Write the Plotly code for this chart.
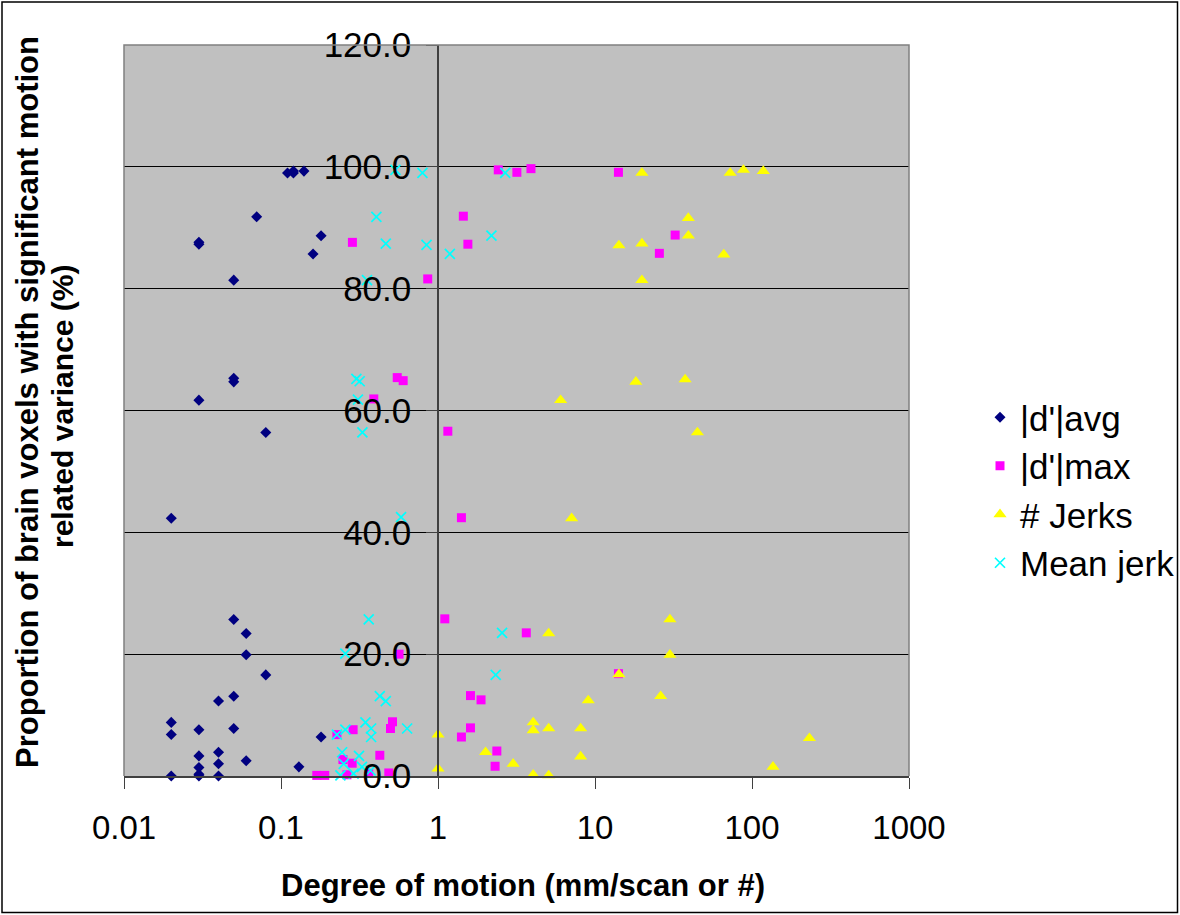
import plotly.graph_objects as go

# ---------------- data ----------------
avg_x = [0.11, 0.12, 0.12, 0.14, 0.07, 0.03, 0.03, 0.18, 0.16, 0.05,
         0.05, 0.05, 0.03, 0.08, 0.02, 0.05, 0.06, 0.06, 0.08, 0.04,
         0.05, 0.02, 0.02, 0.03, 0.05, 0.18, 0.04, 0.03, 0.04, 0.06,
         0.03, 0.13, 0.02, 0.03, 0.04, 0.03]
avg_y = [99.0, 99.0, 99.3, 99.3, 91.8, 87.3, 87.6, 88.7, 85.7, 81.4,
         65.3, 64.7, 61.7, 56.4, 42.3, 25.7, 23.4, 19.9, 16.6, 12.3,
         13.1, 8.8, 6.8, 7.6, 7.8, 6.4, 3.9, 3.3, 2.0, 2.5,
         1.4, 1.5, 0.0, 0.3, 0.0, 0.0]

max_x = [0.285, 0.86, 2.42, 3.18, 3.91, 1.45, 1.55, 14.1, 32.4, 25.7,
         0.55, 0.60, 0.39, 1.155, 1.41, 1.105, 3.65, 0.565, 14.1, 1.61,
         1.88, 1.61, 1.41, 2.37, 2.31, 0.227, 0.288, 0.513, 0.498, 0.426,
         0.248, 0.284, 0.169, 0.19, 0.263, 0.362, 0.486]
max_y = [87.6, 81.6, 99.5, 99.1, 99.7, 91.9, 87.3, 99.1, 88.8, 85.8,
         65.4, 64.9, 61.9, 56.6, 42.4, 25.8, 23.5, 20.0, 16.8, 13.2,
         12.5, 7.9, 6.4, 4.1, 1.6, 6.8, 7.6, 8.9, 7.8, 3.4,
         2.7, 2.1, 0.1, 0.1, 0.2, 0.4, 0.5]

jerks_x = [19.9, 72.6, 88.2, 118, 39.3, 39.3, 14.2, 19.9, 19.9, 66.1,
           6.04, 18.2, 37.5, 44.9, 7.1, 5.07, 30.0, 30.0, 14.2, 9.06,
           26.2, 4.04, 4.04, 5.07, 8.1, 2.01, 8.1, 3.01, 4.04, 5.07,
           1.0, 1.0, 232, 136]
jerks_y = [99.0, 99.0, 99.5, 99.3, 91.6, 88.7, 87.1, 87.4, 81.4, 85.6,
           61.7, 64.7, 65.1, 56.4, 42.3, 23.4, 25.7, 19.9, 16.7, 12.4,
           13.1, 8.8, 7.5, 7.8, 7.8, 3.9, 3.2, 2.0, 0.2, 0.1,
           6.8, 1.2, 6.2, 1.5]

mj_x = [0.536, 0.796, 2.68, 0.405, 0.465, 0.845, 1.19, 2.19, 0.353, 0.302,
        0.317, 0.309, 0.33, 0.582, 0.362, 2.56, 0.257, 2.33, 0.426, 0.465,
        0.227, 0.257, 0.345, 0.375, 0.375, 0.636, 0.245, 0.314, 0.251, 0.328,
        0.29, 0.239, 0.372]
mj_y = [99.5, 99.0, 99.0, 91.8, 87.4, 87.2, 85.7, 88.7, 81.4, 65.2,
        64.8, 61.8, 56.4, 42.5, 25.7, 23.5, 20.1, 16.6, 13.1, 12.3,
        6.8, 7.6, 8.8, 7.8, 6.4, 7.8, 3.9, 3.3, 2.0, 1.5,
        0.4, 0.1, 0.9]

x_tickvals = [0.01, 0.1, 1, 10, 100, 1000]
x_ticktext = ["0.01", "0.1", "1", "10", "100", "1000"]
y_tickvals = [0, 20, 40, 60, 80, 100, 120]

# ---------------- layout geometry ----------------
W, H = 1180, 915
ML, MR, MT, MB = 124, 271, 45, 139
PW = W - ML - MR
PH = H - MT - MB


def px_x(p):
    return (p - ML) / PW


def px_y(p):
    return (H - MB - p) / PH


FONT = "Liberation Sans, Arial, sans-serif"

fig = go.Figure()
fig.add_trace(go.Scatter(x=avg_x, y=avg_y, mode="markers", name="|d'|avg",
                         marker=dict(symbol="diamond", size=8.5, color="#000080"),
                         cliponaxis=False))
fig.add_trace(go.Scatter(x=max_x, y=max_y, mode="markers", name="|d'|max",
                         marker=dict(symbol="square", size=9, color="#FF00FF"),
                         cliponaxis=False))
fig.add_trace(go.Scatter(x=jerks_x, y=jerks_y, mode="markers", name="# Jerks",
                         marker=dict(symbol="triangle-up", size=11.5, color="#FFFF00"),
                         cliponaxis=False))
fig.add_trace(go.Scatter(x=mj_x, y=mj_y, mode="markers", name="Mean jerk",
                         marker=dict(symbol="x-thin", size=10, color="#00FFFF",
                                     line=dict(color="#00FFFF", width=1.7)),
                         cliponaxis=False))

fig.update_layout(
    width=W, height=H, autosize=False,
    margin=dict(l=ML, r=MR, t=MT, b=MB, pad=0),
    paper_bgcolor="white",
    plot_bgcolor="#C0C0C0",
    font=dict(family=FONT, color="black", size=33),
    xaxis=dict(type="log", range=[-2, 3], tickvals=x_tickvals, ticktext=x_ticktext,
               ticks="outside", ticklen=11, tickcolor="#404040", tickwidth=1,
               showline=True, linecolor="#404040", linewidth=2,
               showgrid=False, zeroline=False, ticklabelstandoff=10,
               automargin=False,
               tickfont=dict(size=33, family=FONT)),
    yaxis=dict(range=[0, 120], tickvals=y_tickvals, tickformat=".1f",
               anchor="free", position=0.4,
               ticks="outside", ticklen=11, tickcolor="#404040", tickwidth=1,
               showline=True, linecolor="#404040", linewidth=1.5,
               showgrid=True, gridcolor="black", gridwidth=1,
               zeroline=False, ticklabelstandoff=8, automargin=False,
               tickfont=dict(size=35, family=FONT)),
    legend=dict(xref="container", yref="container",
                x=980 / W, xanchor="left", y=1 - 388 / H, yanchor="top",
                bgcolor="rgba(0,0,0,0)", borderwidth=0,
                font=dict(size=35, family=FONT), itemwidth=30),
    showlegend=True,
)

# plot-area frame (top, left, right) in gray
fig.add_shape(type="path", xref="paper", yref="paper",
              path="M 0,0 L 0,1 L 1,1 L 1,0",
              line=dict(color="#808080", width=1.5), layer="above")

# outer chart border
fig.add_shape(type="rect", xref="paper", yref="paper",
              x0=px_x(2), x1=px_x(1177.5), y0=px_y(912.5), y1=px_y(2),
              line=dict(color="black", width=1.5), fillcolor="rgba(0,0,0,0)",
              layer="above")

# axis titles
fig.add_annotation(text="<b>Degree of motion (mm/scan or #)</b>",
                   xref="paper", yref="paper", x=px_x(523), y=px_y(885),
                   xanchor="center", yanchor="middle", showarrow=False,
                   font=dict(size=31, family=FONT, color="black"))
fig.add_annotation(text="<b>Proportion of brain voxels with significant motion</b>",
                   xref="paper", yref="paper", x=px_x(27), y=px_y(402),
                   xanchor="center", yanchor="middle", showarrow=False, textangle=-90,
                   font=dict(size=31, family=FONT, color="black"))
fig.add_annotation(text="<b>related variance (%)</b>",
                   xref="paper", yref="paper", x=px_x(62), y=px_y(407),
                   xanchor="center", yanchor="middle", showarrow=False, textangle=-90,
                   font=dict(size=30, family=FONT, color="black"))

fig.write_html(
    "out.html",
    config={"responsive": False, "displayModeBar": False},
    post_script="document.body.style.margin='0';document.body.style.overflow='hidden';",
)
